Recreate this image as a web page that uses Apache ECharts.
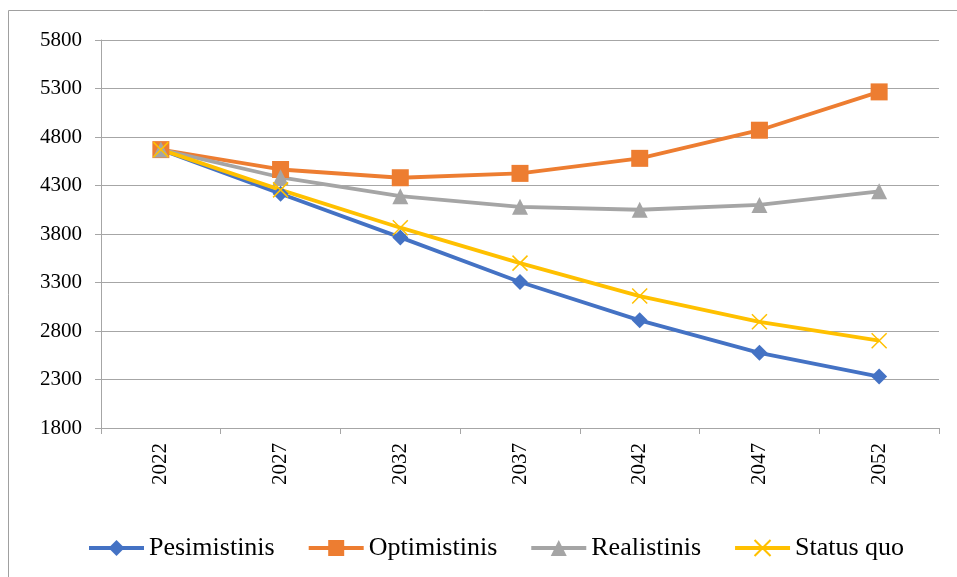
<!DOCTYPE html>
<html>
<head>
<meta charset="utf-8">
<script src="https://cdn.jsdelivr.net/npm/echarts@6/dist/echarts.min.js"></script>
<style>html,body{margin:0;padding:0;background:#fff}#c{width:957px;height:577px}</style>
</head>
<body>
<div id="c"></div>
<script>
var years = ['2022','2027','2032','2037','2042','2047','2052'];
var pesimistinis = [4670, 4215, 3765, 3305, 2910, 2575, 2330];
var optimistinis = [4670, 4465, 4380, 4425, 4580, 4870, 5265];
var realistinis = [4670, 4385, 4190, 4080, 4050, 4100, 4240];
var statusQuo = [4670, 4255, 3865, 3500, 3160, 2895, 2700];
var yTicks = [1800, 5800, 500];

var font = 'Liberation Serif';
var crossPath = 'path://M0,0L10,10M10,0L0,10';

function mk(name, data, color, symbol, size, extra) {
  var s = {
    name: name, type: 'line', data: data,
    symbol: symbol, symbolSize: size,
    lineStyle: {color: color, width: 3.8},
    itemStyle: {color: color},
    emphasis: {disabled: true},
    animation: false
  };
  if (extra) for (var k in extra) s[k] = extra[k];
  return s;
}

var chart = echarts.init(document.getElementById('c'));
chart.setOption({
  animation: false,
  graphic: [{
    type: 'rect', shape: {x: 8.5, y: 10.5, width: 1000, height: 1000},
    style: {fill: 'none', stroke: '#a0a0a0', lineWidth: 1}, silent: true
  }],
  grid: {left: 101, right: 18, top: 40, bottom: 149},
  legend: {
    left: 87, top: 535, padding: 0, itemWidth: 55, itemHeight: 20, itemGap: 32,
    lineStyle: {width: 4},
    textStyle: {fontFamily: font, fontSize: 26, color: '#000'},
    data: ['Pesimistinis', 'Optimistinis', 'Realistinis', 'Status quo']
  },
  xAxis: {
    type: 'category', data: years, boundaryGap: true,
    axisLine: {lineStyle: {color: '#a6a6a6', width: 1}},
    axisTick: {show: true, length: 6, lineStyle: {color: '#a6a6a6'}},
    axisLabel: {rotate: 90, margin: 15, fontFamily: font, fontSize: 21, color: '#000'}
  },
  yAxis: {
    type: 'value', min: yTicks[0], max: yTicks[1], interval: yTicks[2],
    axisLine: {show: true, lineStyle: {color: '#a6a6a6', width: 1}},
    axisTick: {show: true, length: 6, lineStyle: {color: '#a6a6a6'}},
    axisLabel: {margin: 19, fontFamily: font, fontSize: 21, color: '#000',
      formatter: function (v) { return String(v); }},
    splitLine: {lineStyle: {color: '#a6a6a6', width: 1.2}}
  },
  series: [
    mk('Pesimistinis', pesimistinis, '#4472C4', 'diamond', 16),
    mk('Optimistinis', optimistinis, '#ED7D31', 'rect', 17),
    mk('Realistinis', realistinis, '#A5A5A5', 'triangle', 16),
    mk('Status quo', statusQuo, '#FFC000', crossPath, 15, {
      itemStyle: {color: 'none', borderColor: '#FFC000', borderWidth: 1.5}
    })
  ]
});
</script>
</body>
</html>
